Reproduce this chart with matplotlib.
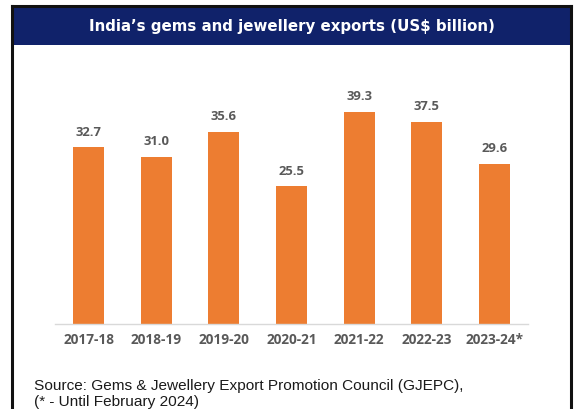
import matplotlib

matplotlib.use("Agg")
import matplotlib.pyplot as plt  # noqa: E402
from matplotlib.patches import Rectangle  # noqa: E402
from matplotlib.lines import Line2D  # noqa: E402

years = ["2017-18", "2018-19", "2019-20", "2020-21", "2021-22", "2022-23", "2023-24*"]
exports = [32.7, 31.0, 35.6, 25.5, 39.3, 37.5, 29.6]

title = "India\u2019s gems and jewellery exports (US$ billion)"
source_lines = [
    "Source: Gems & Jewellery Export Promotion Council (GJEPC),",
    "(* - Until February 2024)",
]

W, H = 576, 410
fig = plt.figure(figsize=(W / 100, H / 100), dpi=100)
fig.patch.set_facecolor("white")


def px(x0, y0, x1, y1):
    # pixel box (top-left origin) -> figure fraction [l, b, w, h]
    return [x0 / W, 1 - y1 / H, (x1 - x0) / W, (y1 - y0) / H]


# navy header strip
l, b, w, h = px(12, 7, 571, 46)
fig.patches.append(Rectangle((l, b), w, h, transform=fig.transFigure,
                             facecolor="#10226A", edgecolor="none", zorder=1))
fig.text((12 + 571) / 2 / W, 1 - 27 / H, title, color="white", fontsize=10.8,
         fontweight="bold", ha="center", va="center", family="DejaVu Sans")

# frame: left, top and right edges
for xs, ys in [((12, 12), (7, 410)), ((12, 571), (7, 7)), ((571, 571), (7, 410))]:
    fig.lines.append(Line2D([x / W for x in xs], [1 - y / H for y in ys],
                            transform=fig.transFigure, color="#111111", lw=2.2, zorder=3))

ax = fig.add_axes(px(55, 82, 528, 325))
x = range(len(years))
bars = ax.bar(x, exports, width=0.46, color="#ED7D31", zorder=2)
for rect, v in zip(bars, exports):
    ax.annotate(f"{v:.1f}", (rect.get_x() + rect.get_width() / 2, v),
                xytext=(0, 7), textcoords="offset points", ha="center", va="bottom",
                fontsize=9.4, fontweight="bold", color="#595959", family="Open Sans")

ax.set_xlim(-0.5, len(years) - 0.5)
ax.set_ylim(0, 45)
ax.set_xticks(list(x))
ax.set_xticklabels(years, fontsize=9.8, fontweight="bold", color="#595959",
                   family="Open Sans")
ax.tick_params(axis="x", length=0, pad=6)
ax.set_yticks([])
for side in ["top", "left", "right"]:
    ax.spines[side].set_visible(False)
ax.spines["bottom"].set_color("#D9D9D9")
ax.spines["bottom"].set_linewidth(1.0)
ax.set_facecolor("none")

for i, line in enumerate(source_lines):
    fig.text(34 / W, 1 - (386 + i * 16.5) / H, line, fontsize=11.1, color="#1a1a1a",
             ha="left", va="center", family="Liberation Sans")

fig.savefig("out.png", dpi=100)
